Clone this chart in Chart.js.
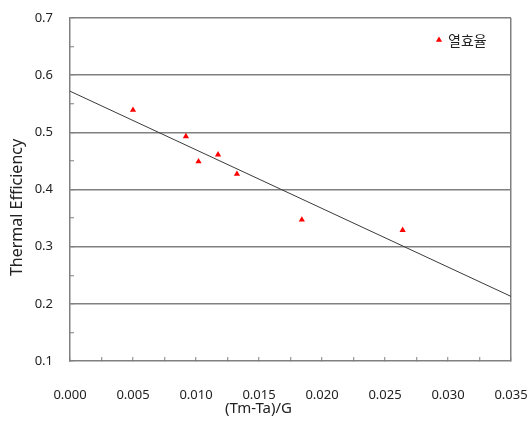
<!DOCTYPE html>
<html>
<head>
<meta charset="utf-8">
<script src="https://cdn.jsdelivr.net/npm/chart.js@4/dist/chart.umd.min.js"></script>
<style>
html,body{margin:0;padding:0;background:#fff;}
#wrap{width:527px;height:430px;position:relative;}
</style>
</head>
<body>
<div id="wrap"><canvas id="c" width="527" height="430"></canvas></div>
<script>
const seriesName = '열효율';
const xValues = [0.0050, 0.0092, 0.0102, 0.01175, 0.01325, 0.0184, 0.0264];
const yValues = [0.539, 0.493, 0.449, 0.461, 0.427, 0.347, 0.329];
const fitX = [0.000, 0.035];
const fitY = [0.572, 0.213];
const xTitle = '(Tm-Ta)/G';
const yTitle = 'Thermal Efficiency';

const FONT = "'Noto Sans', 'Noto Sans CJK KR', sans-serif";
const LINE = '#808080';

const pts = xValues.map((x, i) => ({x: x, y: yValues[i]}));
const fit = fitX.map((x, i) => ({x: x, y: fitY[i]}));

const isMajorX = v => Math.abs(Math.round(v / 0.0025)) % 2 === 0;
const isMajorY = v => Math.abs(Math.round(v / 0.05)) % 2 === 0;

// Offsets an axis title from its centred position (the reference's titles are off-centre)
function shiftTitle(s, dx, dy) {
  if (s._titleShifted) return;
  s._titleShifted = true;
  const orig = s.drawTitle;
  s.drawTitle = function () {
    this.ctx.save();
    this.ctx.translate(dx, dy);
    orig.call(this);
    this.ctx.restore();
  };
}

// Draws the series legend inside the plot, top right (library legend disabled)
const innerLegend = {
  id: 'innerLegend',
  afterDatasetsDraw(chart) {
    const ctx = chart.ctx;
    const area = chart.chartArea;
    const ds = chart.data.datasets[0];
    const cx = area.right - 72;
    const cy = area.top + 22;
    ctx.save();
    ctx.fillStyle = ds.backgroundColor;
    ctx.strokeStyle = ds.borderColor;
    ctx.lineWidth = 0;
    Chart.helpers.drawPoint(ctx, { pointStyle: 'triangle', radius: 3.6, borderWidth: 0 }, cx, cy);
    ctx.fillStyle = '#222';
    ctx.font = "14px " + FONT;
    ctx.textBaseline = 'middle';
    ctx.textAlign = 'left';
    ctx.fillText(ds.label, cx + 9, cy + 2);
    ctx.restore();
  }
};

new Chart(document.getElementById('c'), {
  type: 'scatter',
  data: {
    datasets: [
      {
        label: seriesName,
        data: pts,
        pointStyle: 'triangle',
        pointRadius: 3.6,
        pointHoverRadius: 3.6,
        backgroundColor: '#ff0000',
        borderColor: '#ff0000',
        borderWidth: 0,
        showLine: false
      },
      {
        label: 'fit',
        data: fit,
        showLine: true,
        pointRadius: 0,
        borderColor: '#3a3a3a',
        borderWidth: 1,
        fill: false
      }
    ]
  },
  plugins: [innerLegend],
  options: {
    responsive: false,
    animation: false,
    layout: { padding: { left: 0, top: 18, right: 16, bottom: 0 } },
    plugins: {
      tooltip: { enabled: false },
      legend: { display: false }
    },
    scales: {
      x: {
        type: 'linear',
        min: 0,
        max: 0.035,
        afterFit: s => { s.height = 69; s.paddingLeft = 0; s.paddingRight = 16; shiftTitle(s, -32, 0); },
        afterBuildTicks: s => {
          const t = [];
          for (let i = 0; i <= 14; i++) t.push({value: i * 0.0025});
          s.ticks = t;
        },
        ticks: {
          autoSkip: false,
          maxRotation: 0,
          padding: 30,
          color: '#222',
          font: { family: FONT, size: 13 },
          callback: v => isMajorX(v) ? v.toFixed(3) : ''
        },
        grid: {
          drawTicks: true,
          tickLength: -4,
          color: ctx => (ctx.tick && Math.abs(ctx.tick.value - 0.035) < 1e-9) ? LINE : 'rgba(0,0,0,0)',
          tickColor: LINE,
          lineWidth: 1.5,
          tickWidth: 1
        },
        border: { display: true, color: LINE, width: 1.5 },
        title: {
          display: true,
          text: xTitle,
          color: '#222',
          font: { family: FONT, size: 15 },
          padding: { top: 0, bottom: 12 }
        }
      },
      y: {
        type: 'linear',
        min: 0.1,
        max: 0.7,
        afterFit: s => { s.width = 70; s.paddingTop = 8; s.paddingBottom = 8; shiftTitle(s, 0, 18); },
        afterBuildTicks: s => {
          const t = [];
          for (let i = 0; i <= 12; i++) t.push({value: 0.1 + i * 0.05});
          s.ticks = t;
        },
        ticks: {
          autoSkip: false,
          padding: 21,
          color: '#222',
          font: { family: FONT, size: 13 },
          callback: v => isMajorY(v) ? (Math.round(v * 10) / 10).toFixed(1) : ''
        },
        grid: {
          drawTicks: true,
          tickLength: -4,
          color: ctx => {
            if (!ctx.tick) return 'rgba(0,0,0,0)';
            const v = ctx.tick.value;
            if (v < 0.15) return 'rgba(0,0,0,0)';
            return isMajorY(v) ? LINE : 'rgba(0,0,0,0)';
          },
          tickColor: LINE,
          lineWidth: 1.5,
          tickWidth: 1
        },
        border: { display: true, color: LINE, width: 1.5 },
        title: {
          display: true,
          text: yTitle,
          color: '#222',
          font: { family: FONT, size: 16 },
          padding: { top: 8, bottom: 0 }
        }
      }
    }
  }
});
</script>
</body>
</html>
